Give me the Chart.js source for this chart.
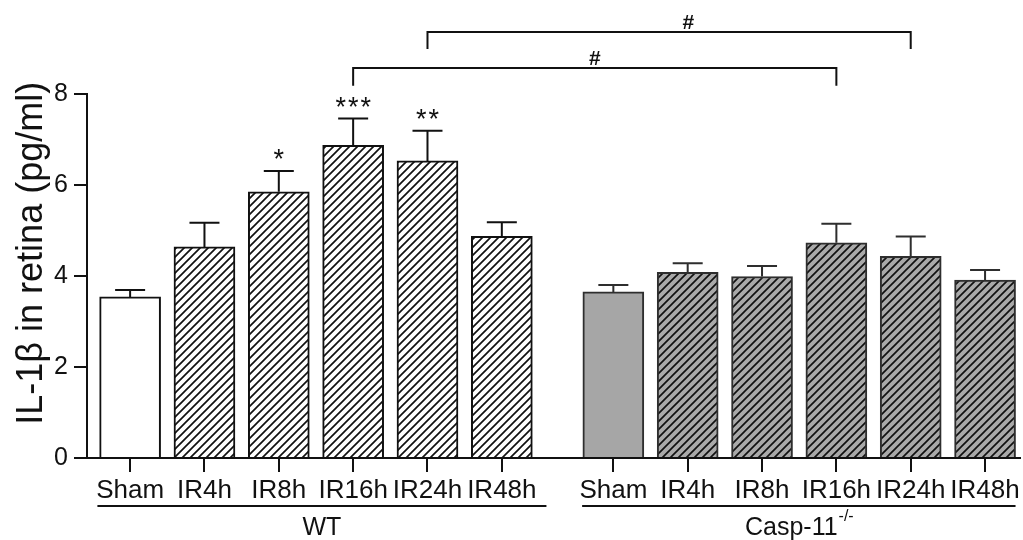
<!DOCTYPE html>
<html>
<head>
<meta charset="utf-8">
<script src="https://cdn.jsdelivr.net/npm/chart.js@4/dist/chart.umd.min.js"></script>
<style>
html, body { margin: 0; padding: 0; background: #fff; }
#wrap { width: 1023px; height: 540px; position: relative; }
</style>
</head>
<body>
<div id="wrap"><canvas id="chart"></canvas></div>
<script>
// --- data ---
const timepoints = ["Sham", "IR4h", "IR8h", "IR16h", "IR24h", "IR48h"];
const wtMeans = [3.54, 4.64, 5.85, 6.87, 6.53, 4.87];
const wtErr = [0.15, 0.53, 0.46, 0.59, 0.66, 0.31];
const wtStars = ["", "", "*", "***", "**", ""];
const caspMeans = [3.65, 4.08, 3.99, 4.73, 4.43, 3.91];
const caspErr = [0.15, 0.20, 0.23, 0.42, 0.44, 0.22];
const yTicks = [0, 2, 4, 6, 8];
const yLabel = "IL-1\u03b2 in retina (pg/ml)";
const groupGap = 6.5; // x index where the Casp-11 group starts
// brackets: from / to are x indexes, y in pg/ml
const brackets = [
    { from: 3, to: groupGap + 3, y: 8.57, drop: 0.39, text: "#", textAt: 0.5 },
    { from: 4, to: groupGap + 4, y: 9.36, drop: 0.37, text: "#", textAt: 0.54 }
];

const FONT = "'Liberation Sans', Arial, sans-serif";
const INK = "#111";

const wtX = timepoints.map((_, i) => i);
const caspX = timepoints.map((_, i) => i + groupGap);
const allX = wtX.concat(caspX);

const canvas = document.getElementById("chart");
const ctx0 = canvas.getContext("2d");

function hatch(bg) {
    const s = 8;
    const c = document.createElement("canvas");
    c.width = s; c.height = s;
    const g = c.getContext("2d");
    g.fillStyle = bg;
    g.fillRect(0, 0, s, s);
    g.strokeStyle = INK;
    g.lineWidth = 1.7;
    g.beginPath();
    g.moveTo(-1, s + 1); g.lineTo(s + 1, -1);
    g.moveTo(-s / 2 - 1, s / 2 + 1); g.lineTo(s / 2 + 1, -s / 2 - 1);
    g.moveTo(s / 2 - 1, s * 1.5 + 1); g.lineTo(s * 1.5 + 1, s / 2 - 1);
    g.stroke();
    return ctx0.createPattern(c, "repeat");
}

const whiteHatch = hatch("#ffffff");
const greyHatch = hatch("#a9a9a9");

// error bars + stars
const errorBars = {
    id: "errorBars",
    afterDatasetsDraw(chart) {
        const { ctx, scales: { y } } = chart;
        const errs = [wtErr, caspErr];
        const means = [wtMeans, caspMeans];
        const stars = [wtStars, []];
        chart.data.datasets.forEach((ds, d) => {
            const meta = chart.getDatasetMeta(d);
            meta.data.forEach((el, i) => {
                const top = y.getPixelForValue(means[d][i] + errs[d][i]);
                ctx.save();
                ctx.strokeStyle = ds.borderColor;
                ctx.lineWidth = 2;
                ctx.beginPath();
                ctx.moveTo(el.x, el.y);
                ctx.lineTo(el.x, top);
                ctx.moveTo(el.x - 15, top);
                ctx.lineTo(el.x + 15, top);
                ctx.stroke();
                const s = stars[d][i];
                if (s) {
                    ctx.fillStyle = INK;
                    ctx.font = "27px " + FONT;
                    ctx.letterSpacing = "2px";
                    ctx.textAlign = "center";
                    ctx.textBaseline = "alphabetic";
                    ctx.fillText(s, el.x + 1, top - 3);
                }
                ctx.restore();
            });
        });
    }
};

const annotations = {
    id: "annotations",
    afterDraw(chart) {
        const { ctx, scales: { x, y } } = chart;
        ctx.save();
        ctx.strokeStyle = INK;
        ctx.fillStyle = INK;
        ctx.lineWidth = 2;

        // significance brackets
        brackets.forEach(b => {
            const x1 = x.getPixelForValue(b.from);
            const x2 = x.getPixelForValue(b.to);
            const yy = y.getPixelForValue(b.y);
            const yb = y.getPixelForValue(b.y - b.drop);
            ctx.beginPath();
            ctx.moveTo(x1, yb);
            ctx.lineTo(x1, yy);
            ctx.lineTo(x2, yy);
            ctx.lineTo(x2, yb);
            ctx.stroke();
            ctx.font = "bold 21px " + FONT;
            ctx.textAlign = "center";
            ctx.textBaseline = "alphabetic";
            ctx.fillText(b.text, x1 + (x2 - x1) * b.textAt, yy - 3);
        });

        // group underlines and names
        const lineY = 506;
        const groups = [
            { a: x.getPixelForValue(-0.44), b: x.getPixelForValue(5.6) },
            { a: x.getPixelForValue(groupGap - 0.42), b: x.getPixelForValue(groupGap + 5.41) }
        ];
        groups.forEach(g => {
            ctx.beginPath();
            ctx.moveTo(g.a, lineY);
            ctx.lineTo(g.b, lineY);
            ctx.stroke();
        });
        ctx.font = "25px " + FONT;
        ctx.textBaseline = "middle";
        ctx.textAlign = "center";
        ctx.fillText("WT", (groups[0].a + groups[0].b) / 2, 528);
        const base = "Casp-11";
        const sup = "-/-";
        const bw = ctx.measureText(base).width;
        ctx.font = "16px " + FONT;
        const sw = ctx.measureText(sup).width;
        const cx = (groups[1].a + groups[1].b) / 2;
        const left = cx - (bw + sw) / 2;
        ctx.textAlign = "left";
        ctx.font = "25px " + FONT;
        ctx.fillText(base, left, 528);
        ctx.font = "16px " + FONT;
        ctx.fillText(sup, left + bw + 1, 517);

        // y axis title
        ctx.font = "36px " + FONT;
        ctx.translate(42, y.getPixelForValue(4.5));
        ctx.rotate(-Math.PI / 2);
        ctx.textAlign = "center";
        ctx.textBaseline = "alphabetic";
        ctx.fillText(yLabel, 0, 0);
        ctx.restore();
    }
};

new Chart(canvas, {
    type: "bar",
    data: {
        datasets: [
            {
                label: "WT",
                data: wtMeans.map((v, i) => ({ x: wtX[i], y: v })),
                backgroundColor: wtMeans.map((_, i) => i === 0 ? "#ffffff" : whiteHatch),
                borderColor: INK,
                borderWidth: 2
            },
            {
                label: "Casp-11-/-",
                data: caspMeans.map((v, i) => ({ x: caspX[i], y: v })),
                backgroundColor: caspMeans.map((_, i) => i === 0 ? "#a6a6a6" : greyHatch),
                borderColor: "#2e2e2e",
                borderWidth: 2
            }
        ]
    },
    options: {
        responsive: true,
        maintainAspectRatio: false,
        animation: false,
        grouped: false,
        barThickness: 61,
        layout: { padding: { top: 94, right: 3, left: 0, bottom: 0 } },
        plugins: { legend: { display: false }, tooltip: { enabled: false } },
        scales: {
            x: {
                type: "linear",
                offset: false,
                min: -0.58,
                max: 11.97,
                afterBuildTicks: scale => { scale.ticks = allX.map(v => ({ value: v })); },
                afterFit: scale => { scale.height = 82; },
                ticks: {
                    autoSkip: false,
                    maxRotation: 0,
                    padding: 3,
                    color: INK,
                    font: { family: FONT, size: 26 },
                    callback: (v, i) => timepoints[i % timepoints.length]
                },
                grid: { offset: false, drawOnChartArea: false, drawTicks: true, tickLength: 14, color: INK, lineWidth: 2 },
                border: { display: true, color: INK, width: 2 }
            },
            y: {
                min: 0,
                max: 8,
                afterBuildTicks: scale => { scale.ticks = yTicks.map(v => ({ value: v })); },
                afterFit: scale => { scale.width = 87; },
                ticks: {
                    padding: 6,
                    color: INK,
                    font: { family: FONT, size: 25 }
                },
                grid: { drawOnChartArea: false, drawTicks: true, tickLength: 13, color: INK, lineWidth: 2 },
                border: { display: true, color: INK, width: 2 }
            }
        }
    },
    plugins: [errorBars, annotations]
});
</script>
</body>
</html>
